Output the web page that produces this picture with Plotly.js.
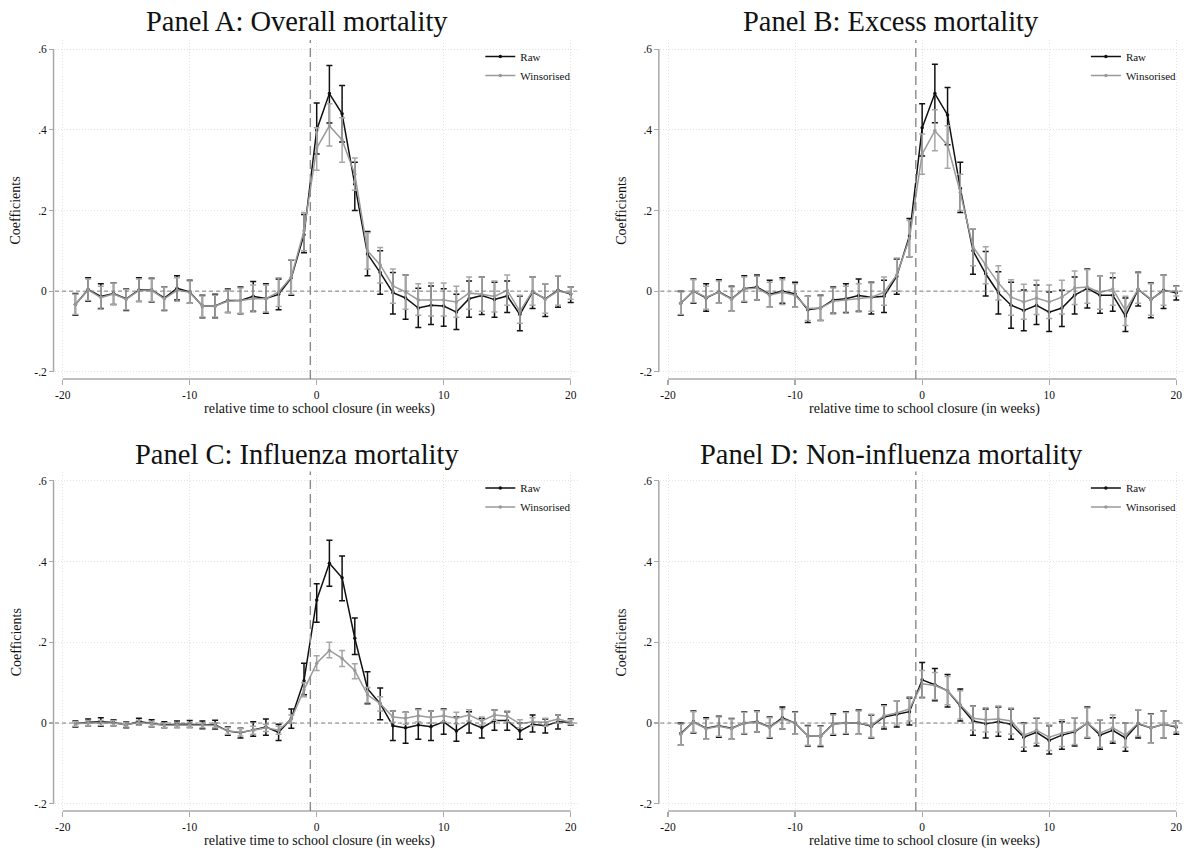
<!DOCTYPE html>
<html>
<head>
<meta charset="utf-8">
<script src="https://cdn.plot.ly/plotly-3.0.1.min.js"></script>
<style>html,body{margin:0;padding:0;background:#fff;}#chart{width:1188px;height:854px;}</style>
</head>
<body>
<div id="chart"></div>
<script>
// ---------- DATA ----------
const weeks = [-19,-18,-17,-16,-15,-14,-13,-12,-11,-10,-9,-8,-7,-6,-5,-4,-3,-2,-1,0,1,2,3,4,5,6,7,8,9,10,11,12,13,14,15,16,17,18,19,20];
const panelTitles = ["Panel A: Overall mortality","Panel B: Excess mortality","Panel C: Influenza mortality","Panel D: Non-influenza mortality"];
const seriesNames = ["Raw","Winsorised"];
const xTickVals = [-20,-10,0,10,20];
const xTickText = ["-20","-10","0","10","20"];
const yTickVals = [-0.2,0,0.2,0.4,0.6];
const yTickText = ["-.2","0",".2",".4",".6"];
const xAxisTitle = "relative time to school closure (in weeks)";
const yAxisTitle = "Coefficients";
const closureLine = -0.5;

// Panel A: Overall mortality
const aRawCoef = [-0.033,0.004,-0.013,-0.006,-0.019,0.003,0.003,-0.017,0.007,-0.002,-0.037,-0.037,-0.023,-0.023,-0.013,-0.018,-0.008,0.033,0.14,0.40,0.49,0.44,0.265,0.092,0.046,-0.004,-0.017,-0.042,-0.035,-0.037,-0.052,-0.019,-0.011,-0.021,-0.012,-0.058,-0.002,-0.019,0.002,-0.007];
const aRawHi   = [-0.006,0.033,0.018,0.021,0.005,0.033,0.032,0.011,0.038,0.027,-0.01,-0.008,0.005,0.01,0.024,0.018,0.03,0.077,0.19,0.467,0.56,0.51,0.32,0.148,0.10,0.046,0.04,0.007,0.013,0.006,-0.008,0.025,0.035,0.022,0.025,-0.012,0.035,0.018,0.038,0.01];
const aRawLo   = [-0.06,-0.025,-0.043,-0.033,-0.048,-0.026,-0.027,-0.048,-0.022,-0.03,-0.066,-0.066,-0.053,-0.056,-0.05,-0.055,-0.046,-0.01,0.095,0.34,0.417,0.37,0.20,0.038,-0.008,-0.057,-0.07,-0.09,-0.083,-0.087,-0.095,-0.065,-0.058,-0.065,-0.053,-0.098,-0.043,-0.063,-0.04,-0.028];
const aWinCoef = [-0.033,0.003,-0.016,-0.007,-0.02,0.001,0.002,-0.019,0.002,-0.003,-0.037,-0.037,-0.025,-0.023,-0.019,-0.019,-0.002,0.035,0.15,0.355,0.41,0.375,0.29,0.10,0.065,0.013,-0.002,-0.022,-0.022,-0.022,-0.027,-0.005,-0.008,-0.013,0.002,-0.05,0.0,-0.02,0.0,-0.005];
const aWinHi   = [-0.008,0.03,0.012,0.02,0.004,0.03,0.03,0.01,0.033,0.025,-0.012,-0.01,0.003,0.008,0.015,0.015,0.033,0.078,0.195,0.405,0.465,0.43,0.33,0.145,0.108,0.055,0.04,0.018,0.02,0.02,0.012,0.035,0.035,0.025,0.04,-0.01,0.035,0.018,0.038,0.01];
const aWinLo   = [-0.058,-0.023,-0.045,-0.033,-0.046,-0.025,-0.026,-0.047,-0.025,-0.03,-0.064,-0.064,-0.053,-0.055,-0.052,-0.052,-0.038,-0.008,0.1,0.30,0.36,0.32,0.25,0.055,0.02,-0.03,-0.045,-0.06,-0.062,-0.062,-0.065,-0.045,-0.05,-0.052,-0.035,-0.08,-0.035,-0.055,-0.035,-0.02];

// Panel B: Excess mortality
const bRawCoef = [-0.03,0.0,-0.017,-0.002,-0.019,0.006,0.01,-0.008,0.0,-0.007,-0.046,-0.042,-0.022,-0.019,-0.011,-0.015,-0.013,0.037,0.137,0.405,0.49,0.437,0.255,0.10,0.043,-0.004,-0.035,-0.048,-0.035,-0.052,-0.042,-0.01,0.007,-0.01,-0.01,-0.062,0.004,-0.021,0.002,-0.004];
const bRawHi   = [0.0,0.03,0.018,0.028,0.012,0.038,0.04,0.027,0.033,0.022,-0.013,-0.01,0.01,0.018,0.03,0.022,0.027,0.08,0.18,0.465,0.563,0.505,0.32,0.155,0.098,0.048,0.022,0.003,0.015,-0.002,0.002,0.035,0.055,0.037,0.033,-0.017,0.047,0.02,0.04,0.013];
const bRawLo   = [-0.06,-0.03,-0.05,-0.03,-0.05,-0.027,-0.022,-0.04,-0.03,-0.04,-0.078,-0.073,-0.055,-0.053,-0.05,-0.057,-0.053,-0.008,0.085,0.335,0.418,0.363,0.195,0.042,-0.012,-0.057,-0.092,-0.098,-0.083,-0.1,-0.088,-0.057,-0.042,-0.055,-0.05,-0.1,-0.037,-0.066,-0.043,-0.022];
const bWinCoef = [-0.03,0.0,-0.015,-0.003,-0.02,0.005,0.008,-0.01,-0.003,-0.01,-0.043,-0.042,-0.025,-0.022,-0.018,-0.015,-0.003,0.04,0.13,0.34,0.398,0.362,0.245,0.11,0.065,0.02,-0.015,-0.027,-0.017,-0.027,-0.015,0.008,0.01,-0.003,0.005,-0.048,0.005,-0.02,0.0,0.0];
const bWinHi   = [-0.002,0.028,0.012,0.025,0.01,0.035,0.037,0.022,0.028,0.018,-0.013,-0.012,0.008,0.012,0.018,0.02,0.035,0.082,0.175,0.39,0.45,0.41,0.29,0.155,0.11,0.063,0.028,0.017,0.027,0.015,0.027,0.05,0.053,0.037,0.045,-0.013,0.045,0.018,0.04,0.012];
const bWinLo   = [-0.058,-0.028,-0.045,-0.03,-0.05,-0.025,-0.022,-0.04,-0.033,-0.04,-0.073,-0.072,-0.057,-0.055,-0.052,-0.05,-0.035,0.0,0.085,0.29,0.348,0.305,0.2,0.063,0.018,-0.022,-0.06,-0.07,-0.058,-0.068,-0.057,-0.033,-0.03,-0.045,-0.035,-0.085,-0.03,-0.06,-0.035,-0.012];

// Panel C: Influenza mortality
const cRawCoef = [-0.002,0.002,0.003,0.001,-0.005,0.004,-0.001,-0.005,-0.003,-0.003,-0.005,-0.004,-0.02,-0.024,-0.017,-0.01,-0.023,0.011,0.105,0.305,0.396,0.36,0.21,0.085,0.048,-0.007,-0.012,-0.005,-0.009,0.003,-0.02,0.001,-0.012,0.006,0.006,-0.02,-0.003,-0.007,0.003,0.002];
const cRawHi   = [0.005,0.01,0.013,0.008,0.003,0.012,0.008,0.003,0.005,0.006,0.005,0.007,-0.01,-0.013,0.003,0.01,-0.003,0.035,0.148,0.345,0.453,0.414,0.26,0.127,0.087,0.03,0.027,0.035,0.03,0.035,0.015,0.028,0.012,0.032,0.028,0.0,0.02,0.01,0.02,0.01];
const cRawLo   = [-0.01,-0.007,-0.008,-0.007,-0.012,-0.004,-0.009,-0.012,-0.011,-0.011,-0.014,-0.015,-0.03,-0.037,-0.033,-0.03,-0.043,-0.013,0.07,0.25,0.339,0.303,0.17,0.048,0.008,-0.043,-0.05,-0.04,-0.043,-0.028,-0.045,-0.025,-0.037,-0.018,-0.018,-0.04,-0.022,-0.025,-0.015,-0.005];
const cWinCoef = [-0.002,0.0,0.0,0.0,-0.004,0.001,-0.002,-0.006,-0.005,-0.005,-0.006,-0.006,-0.02,-0.023,-0.018,-0.012,-0.018,0.01,0.082,0.148,0.18,0.16,0.13,0.07,0.048,0.015,0.012,0.018,0.014,0.018,0.012,0.02,0.005,0.02,0.017,-0.002,0.003,0.002,0.01,0.002];
const cWinHi   = [0.003,0.006,0.006,0.006,0.002,0.007,0.004,0.0,0.001,0.001,0.0,0.0,-0.012,-0.014,-0.008,-0.003,-0.008,0.02,0.1,0.167,0.2,0.18,0.147,0.088,0.065,0.03,0.027,0.033,0.03,0.033,0.027,0.033,0.015,0.032,0.03,0.008,0.013,0.012,0.02,0.008];
const cWinLo   = [-0.008,-0.006,-0.006,-0.006,-0.01,-0.005,-0.008,-0.012,-0.011,-0.011,-0.012,-0.012,-0.028,-0.032,-0.028,-0.021,-0.028,0.0,0.065,0.13,0.162,0.14,0.11,0.05,0.03,0.002,-0.003,0.003,0.0,0.003,-0.002,0.005,-0.005,0.007,0.003,-0.012,-0.007,-0.008,0.0,-0.003];

// Panel D: Non-influenza mortality
const dRawCoef = [-0.026,0.003,-0.013,-0.007,-0.013,0.0,0.003,-0.01,0.013,0.0,-0.032,-0.033,-0.002,0.0,0.0,-0.008,0.015,0.022,0.028,0.107,0.095,0.08,0.043,0.005,-0.002,0.003,-0.003,-0.035,-0.023,-0.043,-0.03,-0.022,0.0,-0.03,-0.018,-0.037,-0.002,-0.012,-0.003,-0.01];
const dRawHi   = [0.0,0.03,0.013,0.017,0.011,0.028,0.03,0.015,0.04,0.028,-0.006,-0.007,0.023,0.028,0.032,0.02,0.045,0.055,0.062,0.15,0.135,0.12,0.084,0.043,0.035,0.04,0.035,0.0,0.012,-0.007,0.003,0.013,0.04,0.008,0.013,0.0,0.033,0.023,0.03,0.005];
const dRawLo   = [-0.055,-0.025,-0.04,-0.035,-0.04,-0.027,-0.022,-0.038,-0.015,-0.028,-0.057,-0.058,-0.03,-0.028,-0.028,-0.037,-0.015,-0.01,-0.005,0.063,0.055,0.04,0.005,-0.03,-0.037,-0.033,-0.04,-0.07,-0.057,-0.077,-0.065,-0.057,-0.037,-0.065,-0.05,-0.07,-0.037,-0.05,-0.037,-0.028];
const dWinCoef = [-0.028,0.002,-0.014,-0.008,-0.014,0.0,0.002,-0.011,0.01,0.0,-0.032,-0.033,-0.003,0.0,0.0,-0.006,0.018,0.025,0.035,0.097,0.093,0.08,0.045,0.012,0.008,0.01,0.005,-0.03,-0.018,-0.035,-0.025,-0.02,0.0,-0.025,-0.012,-0.03,0.0,-0.012,-0.003,-0.008];
const dWinHi   = [-0.003,0.028,0.01,0.015,0.01,0.027,0.028,0.013,0.035,0.027,-0.008,-0.008,0.02,0.026,0.03,0.022,0.043,0.055,0.065,0.13,0.125,0.115,0.08,0.042,0.038,0.042,0.037,-0.002,0.013,-0.005,0.008,0.013,0.037,0.008,0.02,0.0,0.033,0.022,0.03,0.005];
const dWinLo   = [-0.055,-0.023,-0.04,-0.033,-0.04,-0.026,-0.022,-0.036,-0.015,-0.028,-0.055,-0.056,-0.028,-0.026,-0.028,-0.035,-0.01,-0.005,0.005,0.062,0.058,0.045,0.01,-0.018,-0.022,-0.022,-0.027,-0.06,-0.05,-0.068,-0.058,-0.053,-0.035,-0.06,-0.045,-0.06,-0.033,-0.05,-0.037,-0.022];

// ---------- BUILD ----------
const W = 1188, H = 854;
const FONT = "Liberation Serif, Times New Roman, serif";
const panels = [
  {raw:[aRawCoef,aRawLo,aRawHi], win:[aWinCoef,aWinLo,aWinHi]},
  {raw:[bRawCoef,bRawLo,bRawHi], win:[bWinCoef,bWinLo,bWinHi]},
  {raw:[cRawCoef,cRawLo,cRawHi], win:[cWinCoef,cWinLo,cWinHi]},
  {raw:[dRawCoef,dRawLo,dRawHi], win:[dWinCoef,dWinLo,dWinHi]}
];
// pixel geometry of plot regions
const colLeft = [55.1, 660.4], colRight = [578.3, 1183.9];
const rowTop = [40, 471.6], rowBottom = [379, 811];
const XR = [-20.6, 20.6], YR = [-0.218, 0.623];

const styles = [
  {color:'#111111', ecolor:'#111111', width:1.5},
  {color:'#9a9a9a', ecolor:'#a6a6a6', width:1.5}
];

const data = [];
const layout = {
  width: W, height: H, margin:{l:0,r:0,t:0,b:0},
  paper_bgcolor:'#ffffff', plot_bgcolor:'#ffffff',
  font:{family:FONT, color:'#111', size:11},
  showlegend:true, shapes:[], annotations:[]
};

panels.forEach((p, i) => {
  const col = i % 2, row = Math.floor(i / 2);
  const n = i + 1;
  const xa = n === 1 ? 'x' : 'x' + n, ya = n === 1 ? 'y' : 'y' + n;
  const xk = n === 1 ? 'xaxis' : 'xaxis' + n, yk = n === 1 ? 'yaxis' : 'yaxis' + n;
  const lk = n === 1 ? 'legend' : 'legend' + n;
  const L = colLeft[col], R = colRight[col], T = rowTop[row], B = rowBottom[row];

  layout[xk] = {
    domain:[L / W, R / W], range:XR, anchor:ya,
    tickmode:'array', tickvals:xTickVals, ticktext:xTickText,
    ticks:'outside', ticklen:5, tickwidth:1.2, tickcolor:'#a8a8a8',
    showline:false, zeroline:false,
    showgrid:true, gridcolor:'#e2e2e2', gridwidth:1, griddash:'1px,2px',
    tickfont:{family:FONT, size:11.5, color:'#111'}, fixedrange:true
  };
  layout[yk] = {
    domain:[1 - B / H, 1 - T / H], range:YR, anchor:xa,
    tickmode:'array', tickvals:yTickVals, ticktext:yTickText,
    ticks:'outside', ticklen:5, tickwidth:1.2, tickcolor:'#a8a8a8',
    showline:false, zeroline:false,
    showgrid:true, gridcolor:'#e2e2e2', gridwidth:1, griddash:'1px,2px',
    tickfont:{family:FONT, size:11.5, color:'#111'}, fixedrange:true
  };

  // axis lines (Stata style, spanning only the tick range)
  layout.shapes.push({type:'line', xref:xa, yref:ya + ' domain', x0:-20, x1:20, y0:0, y1:0,
    line:{color:'#a8a8a8', width:1.5}});
  layout.shapes.push({type:'line', xref:xa + ' domain', yref:ya, x0:-0.003, x1:-0.003, y0:-0.2, y1:0.6,
    line:{color:'#a8a8a8', width:1.5}});
  // zero reference line
  layout.shapes.push({type:'line', xref:xa + ' domain', yref:ya, x0:0, x1:1, y0:0, y1:0,
    line:{color:'#7a7a7a', width:1, dash:'4px,3px'}});
  // school-closure line
  layout.shapes.push({type:'line', xref:xa, yref:ya + ' domain', x0:closureLine, x1:closureLine, y0:0, y1:1,
    line:{color:'#8a8a8a', width:1.4, dash:'9px,5px'}});

  // titles & axis titles
  layout.annotations.push({text:panelTitles[i], xref:'paper', yref:'paper',
    x:(col * 594 + 297) / W, y:1 - (row === 0 ? 21 : 454) / H, xanchor:'center', yanchor:'middle',
    showarrow:false, font:{family:FONT, size:28.5, color:'#111'}});
  layout.annotations.push({text:xAxisTitle, xref:xa, yref:'paper', x:0.2,
    y:1 - (B + 30) / H, xanchor:'center', yanchor:'middle',
    showarrow:false, font:{family:FONT, size:14, color:'#111'}});
  layout.annotations.push({text:yAxisTitle, xref:'paper', yref:ya, x:(col * 605.3 + 16) / W,
    y:0.2, xanchor:'center', yanchor:'middle', textangle:-90,
    showarrow:false, font:{family:FONT, size:14, color:'#111'}});

  // legend
  layout[lk] = {x:(R - 98) / W, y:1 - (T + 2) / H, xanchor:'left', yanchor:'top',
    bgcolor:'rgba(0,0,0,0)', borderwidth:0, itemwidth:30,
    font:{family:FONT, size:11, color:'#111'}, tracegroupgap:0};

  [p.raw, p.win].forEach((s, k) => {
    const [coef, lo, hi] = s;
    const st = styles[k];
    data.push({
      type:'scatter', mode:'lines+markers', x:weeks, y:coef,
      xaxis:xa, yaxis:ya, name:seriesNames[k], legend:lk, showlegend:true,
      line:{color:st.color, width:st.width},
      marker:{color:st.color, size:3.5},
      error_y:{type:'data', symmetric:false,
        array:hi.map((v, j) => v - coef[j]),
        arrayminus:lo.map((v, j) => coef[j] - v),
        color:st.ecolor, thickness:1.5, width:3},
      cliponaxis:false, hoverinfo:'skip'
    });
  });
});

Plotly.newPlot('chart', data, layout, {staticPlot:true, displayModeBar:false});
</script>
</body>
</html>
